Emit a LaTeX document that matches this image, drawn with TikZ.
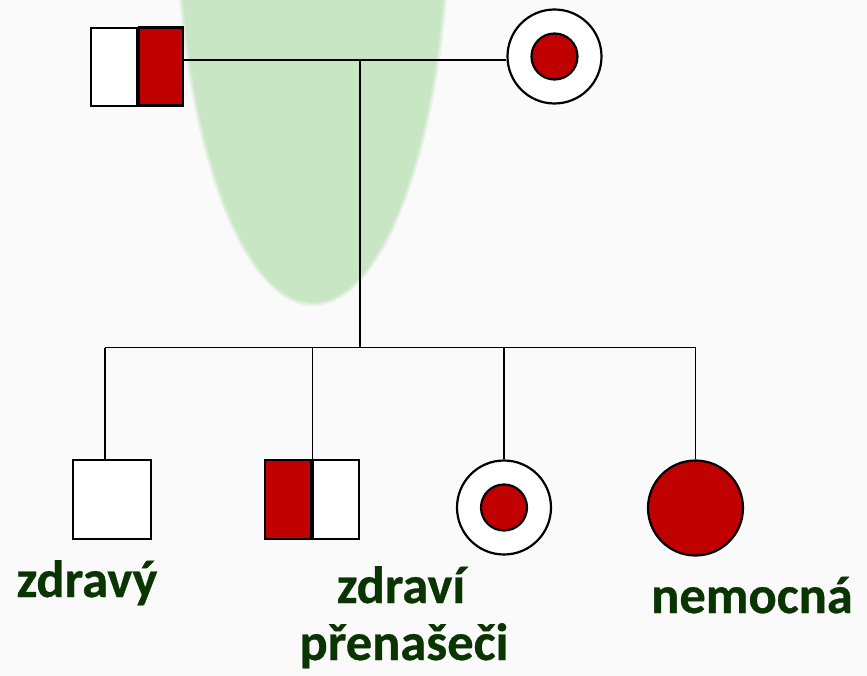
\documentclass[tikz,border=0pt]{standalone}
\usepackage{fontspec}
\setmainfont{Carlito}[BoldFeatures={FakeBold=0.6}]
\definecolor{carrier}{RGB}{192,0,0}
\definecolor{labelgreen}{RGB}{10,52,2}
\definecolor{halo}{RGB}{200,230,196}
\definecolor{page}{RGB}{250,250,250}

\begin{document}
\begin{tikzpicture}[x=1pt,y=-1pt,
  link/.style={line width=1.9pt},
  sym/.style={draw, line width=2.2pt, inner sep=0pt},
  halfbox/.style={sym, rectangle, minimum height=78pt, minimum width=46pt},
  ring/.style={sym, circle, fill=white, minimum size=94pt},
  dot/.style={sym, circle, fill=carrier, minimum size=46pt},
  lbl/.style={text=labelgreen, font=\bfseries\fontsize{52.5}{57}\selectfont,
              anchor=base, inner sep=0pt}
]
% page and soft green backdrop (half ellipse whose centre lies above the page)
\fill[page] (0,0) rectangle (867,676);
\useasboundingbox (0,0) rectangle (867,676);
\begin{scope}
  \clip (0,0) rectangle (867,676);
  \fill[halo, opacity=0.35] (313,-100) ellipse [x radius=138, y radius=406];
  \fill[halo, opacity=0.6] (313,-100) ellipse [x radius=136, y radius=404];
  \fill[halo] (313,-100) ellipse [x radius=134, y radius=402];
\end{scope}

% parents
\node[halfbox, fill=white] (fatherL) at (114,67) {};
\node[halfbox, fill=carrier, minimum width=44pt] (fatherR) at (161,66.5) {};
\node[ring] (mother) at (554.5,56.5) {};
\node[dot] (motherdot) at (mother.center) {};

% children
\node[halfbox, fill=white, minimum width=78pt, minimum height=79pt] (c1) at (112,499.5) {};
\node[halfbox, fill=carrier, minimum height=79pt] (c2L) at (288,499.5) {};
\node[halfbox, fill=white, minimum height=79pt] (c2R) at (336,499.5) {};
\node[ring] (c3) at (504,507.5) {};
\node[dot] (c3dot) at (c3.center) {};
\node[sym, circle, fill=carrier, minimum size=95pt] (c4) at (695.5,508) {};

% pedigree lines
\coordinate (mate) at (360,60);
\coordinate (sib) at (360,347.5);
\coordinate (d1) at (105,347.5);
\coordinate (d2) at (312.5,347.5);
\coordinate (d3) at (c3 |- sib);
\coordinate (d4) at (c4 |- sib);
\draw[link] (fatherR.east |- mate) -- (mother.west |- mate);
\draw[link] (mate) -- (sib);
\draw[link] (d1) -- (d4);
\draw[link] (d1) -- (d1 |- c1.north);
\draw[link] (d2) -- (d2 |- c2L.north);
\draw[link] (d3) -- (c3.north);
\draw[link] (d4) -- (c4.north);

% labels
\node[lbl] (t1) at (87,597) {zdravý};
\node[lbl] (t2a) at (401,603) {zdraví};
\node[lbl] (t2b) at (404,660) {přenašeči};
\node[lbl] (t4) at (752,613) {nemocná};
\end{tikzpicture}
\end{document}
